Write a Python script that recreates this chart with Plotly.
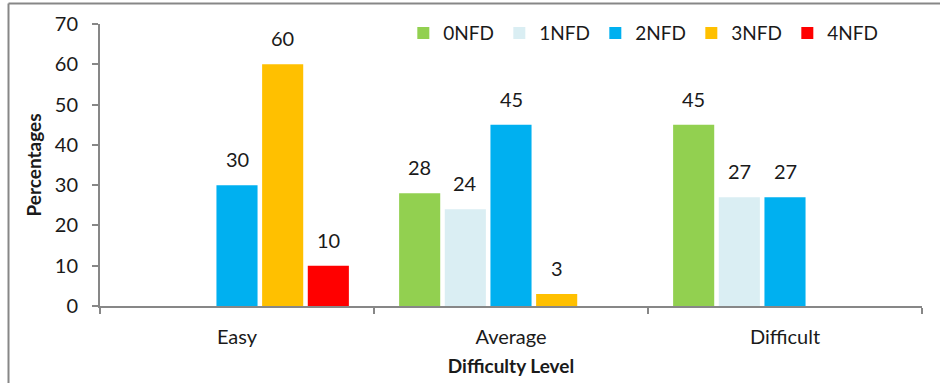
import plotly.graph_objects as go

# Share of students per difficulty level, by number of NFD
categories = ["Easy", "Average", "Difficult"]
series_names = ["0NFD", "1NFD", "2NFD", "3NFD", "4NFD"]
nfd0 = [None, 28, 45]
nfd1 = [None, 24, 27]
nfd2 = [30, 45, 27]
nfd3 = [60, 3, None]
nfd4 = [10, None, None]
y_ticks = [0, 10, 20, 30, 40, 50, 60, 70]

series_values = [nfd0, nfd1, nfd2, nfd3, nfd4]
colors = ["#92D050", "#DAEEF3", "#00B0F0", "#FFC000", "#FF0000"]

FONT = "Lato, Carlito, 'Liberation Sans', sans-serif"
TXT = "#1a1a1a"
AXIS = "#878787"
BARGAP = 1 / 6
BARGROUPGAP = 0.1

fig = go.Figure()
for name, vals, col in zip(series_names, series_values, colors):
    fig.add_trace(go.Bar(
        name=name, x=categories, y=vals,
        marker=dict(color=col, line=dict(width=0)),
    ))

# value labels above each bar, placed on the category axis by group slot
n = len(series_names)
slot = (1 - BARGAP) / n
annotations = []
for si, vals in enumerate(series_values):
    for ci, v in enumerate(vals):
        if v is None:
            continue
        annotations.append(dict(
            x=ci + (si - (n - 1) / 2) * slot, y=v, xref="x", yref="y",
            text=str(v), showarrow=False, yanchor="bottom", yshift=12,
            font=dict(family=FONT, size=20, color=TXT),
        ))

fig.update_layout(
    width=940, height=383,
    margin=dict(l=100, r=18, t=24, b=77),
    paper_bgcolor="white", plot_bgcolor="white",
    barmode="group", bargap=BARGAP, bargroupgap=BARGROUPGAP,
    font=dict(family=FONT, color=TXT),
    annotations=annotations,
    legend=dict(
        orientation="h", x=0.369, y=1.035, xanchor="left", yanchor="top",
        font=dict(family=FONT, size=19, color=TXT),
        bgcolor="rgba(0,0,0,0)", traceorder="normal",
        entrywidth=51, entrywidthmode="pixels", itemwidth=30,
    ),
    shapes=[
        dict(type="line", xref="paper", yref="paper",
             x0=(8.5 - 100) / 822, x1=1.1, y0=(306 - 3.5) / 282, y1=(306 - 3.5) / 282,
             line=dict(color=AXIS, width=2)),
        dict(type="line", xref="paper", yref="paper",
             x0=(8.5 - 100) / 822, x1=(8.5 - 100) / 822, y0=(306 - 3.5) / 282, y1=-0.3,
             line=dict(color=AXIS, width=2)),
    ],
)
fig.update_xaxes(
    showline=True, linecolor=AXIS, linewidth=2, automargin=False,
    ticks="outside", tickson="boundaries", ticklen=6, tickcolor=AXIS, tickwidth=2,
    tickfont=dict(family=FONT, size=20, color=TXT), ticklabelstandoff=12,
    title=dict(text="<b>Difficulty Level</b>", font=dict(family=FONT, size=19, color=TXT), standoff=13),
    showgrid=False,
)
fig.update_yaxes(
    range=[0, 70], tickvals=y_ticks, showline=True, linecolor=AXIS, linewidth=2,
    ticks="outside", ticklen=6, tickcolor=AXIS, tickwidth=2, automargin=False,
    tickfont=dict(family=FONT, size=20, color=TXT), ticklabelstandoff=10,
    title=dict(text="<b>Percentages</b>", font=dict(family=FONT, size=19, color=TXT), standoff=8),
    showgrid=False, zeroline=False,
)

fig.write_html("out.html")
